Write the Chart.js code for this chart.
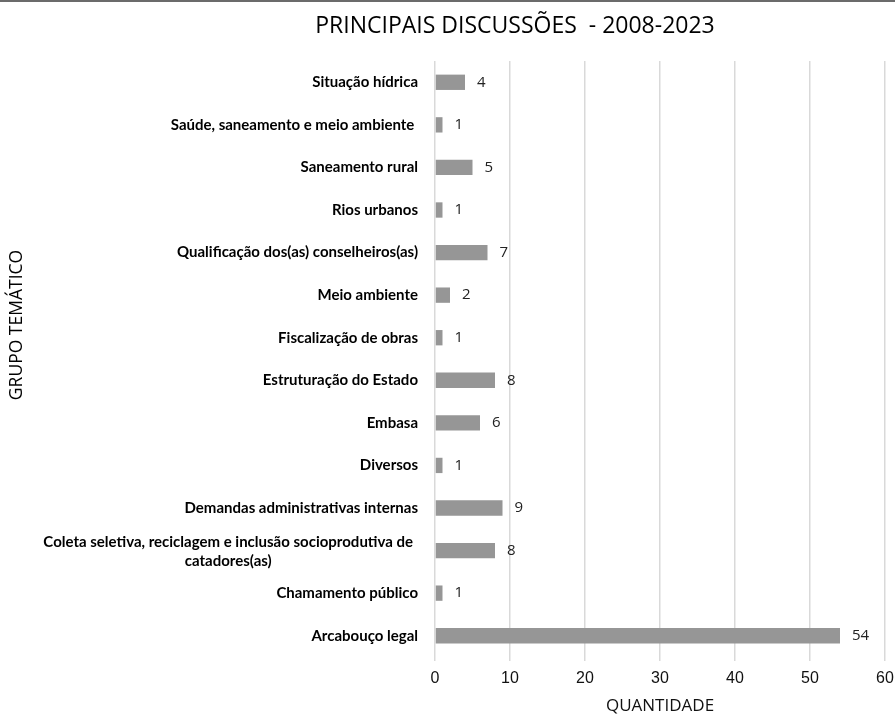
<!DOCTYPE html>
<html>
<head>
<meta charset="utf-8">
<script src="https://cdn.jsdelivr.net/npm/chart.js@4"></script>
<style>
  html, body { margin: 0; padding: 0; background: #fff; }
  #wrap { width: 895px; height: 716px; position: relative; }
</style>
</head>
<body>
<div id="wrap"><canvas id="discussoesChart"></canvas></div>
<script>
const categorias = [
    'Situação hídrica',
    'Saúde, saneamento e meio ambiente ',
    'Saneamento rural',
    'Rios urbanos',
    'Qualificação dos(as) conselheiros(as)',
    'Meio ambiente',
    'Fiscalização de obras',
    'Estruturação do Estado',
    'Embasa',
    'Diversos',
    'Demandas administrativas internas',
    ['Coleta seletiva, reciclagem e inclusão socioprodutiva de', 'catadores(as)'],
    'Chamamento público',
    'Arcabouço legal'
];
const quantidades = [4, 1, 5, 1, 7, 2, 1, 8, 6, 1, 9, 8, 1, 54];
const ticksX = [0, 10, 20, 30, 40, 50, 60];

const fonteRotulo = 'bold 15px Lato';
const fonteValor = '15px "Open Sans"';

// faixa cinza no topo, título e rótulos das categorias
const decoracao = {
    id: 'decoracao',
    beforeDraw(chart) {
        const ctx = chart.ctx;
        ctx.save();
        ctx.fillStyle = '#6b6b6b';
        ctx.fillRect(0, 0, chart.width, 2);
        ctx.restore();
    },
    afterDraw(chart) {
        const ctx = chart.ctx;
        const y = chart.scales.y;
        ctx.save();
        ctx.fillStyle = '#000';
        ctx.textBaseline = 'middle';

        ctx.font = '23px "Open Sans"';
        ctx.textAlign = 'center';
        ctx.fillText('PRINCIPAIS DISCUSSÕES  - 2008-2023', 515, 26);

        ctx.font = fonteRotulo;
        categorias.forEach((cat, i) => {
            const py = y.getPixelForTick(i);
            if (Array.isArray(cat)) {
                const w = ctx.measureText(cat[0]).width;
                const cx = 413 - w / 2;
                ctx.textAlign = 'center';
                ctx.fillText(cat[0], cx, py - 8);
                ctx.fillText(cat[1], cx, py + 11);
            } else {
                ctx.textAlign = 'right';
                ctx.fillText(cat, 418, py);
            }
        });

        ctx.save();
        ctx.translate(17, 325);
        ctx.rotate(-Math.PI / 2);
        ctx.textAlign = 'center';
        ctx.font = '17.5px "Open Sans"';
        ctx.fillText('GRUPO TEMÁTICO', 0, 0);
        ctx.restore();

        // valores ao lado das barras
        ctx.font = fonteValor;
        ctx.fillStyle = '#222';
        ctx.textAlign = 'left';
        const meta = chart.getDatasetMeta(0);
        meta.data.forEach((bar, i) => {
            ctx.fillText(String(quantidades[i]), bar.x + 12, bar.y);
        });
        ctx.restore();
    }
};

new Chart(document.getElementById('discussoesChart').getContext('2d'), {
    type: 'bar',
    data: {
        labels: categorias,
        datasets: [{
            data: quantidades,
            backgroundColor: '#969696',
            borderWidth: 0,
            barPercentage: 0.36,
            categoryPercentage: 1
        }]
    },
    options: {
        indexAxis: 'y',
        responsive: true,
        maintainAspectRatio: false,
        animation: false,
        layout: { padding: { top: 61, right: 0, left: 0, bottom: 0 } },
        plugins: {
            legend: { display: false },
            tooltip: { enabled: false }
        },
        scales: {
            x: {
                min: 0,
                max: 60,
                afterBuildTicks(scale) {
                    scale.ticks = ticksX.map(v => ({ value: v }));
                },
                grid: {
                    color: '#d9d9d9',
                    lineWidth: 1.5,
                    drawTicks: true,
                    tickLength: 4
                },
                border: { display: false },
                ticks: {
                    color: '#111',
                    font: { family: 'Liberation Sans', size: 16 },
                    padding: 8
                },
                title: {
                    display: true,
                    text: 'QUANTIDADE',
                    color: '#111',
                    font: { family: 'Open Sans', size: 17 },
                    padding: { top: 4, bottom: 0 }
                },
                afterFit(scale) {
                    scale.height = 59;
                    scale.paddingRight = 10;
                }
            },
            y: {
                grid: { display: false },
                border: { display: false },
                ticks: { display: false },
                afterFit(scale) { scale.width = 435; }
            }
        }
    },
    plugins: [decoracao]
});
</script>
</body>
</html>
